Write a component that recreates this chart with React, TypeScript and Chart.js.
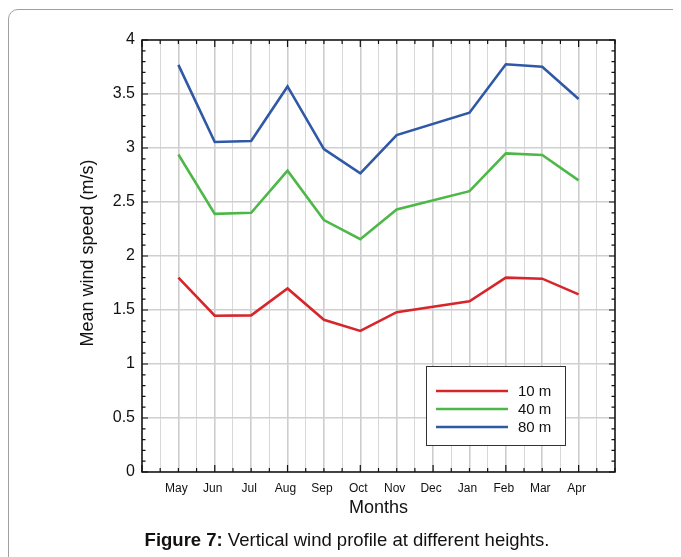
import React, { useEffect, useRef } from 'react';
import { Chart, registerables } from 'chart.js';

Chart.register(...registerables);

const months = ['May', 'Jun', 'Jul', 'Aug', 'Sep', 'Oct', 'Nov', 'Dec', 'Jan', 'Feb', 'Mar', 'Apr'];
const speed10m: (number | null)[] = [1.80, 1.447, 1.45, 1.70, 1.41, 1.306, 1.48, null, 1.58, 1.80, 1.79, 1.645];
const speed40m: (number | null)[] = [2.94, 2.39, 2.40, 2.79, 2.333, 2.155, 2.43, null, 2.60, 2.95, 2.935, 2.70];
const speed80m: (number | null)[] = [3.77, 3.056, 3.065, 3.57, 2.99, 2.765, 3.12, null, 3.327, 3.775, 3.753, 3.454];
const seriesNames = ['10 m', '40 m', '80 m'];
const seriesColors = ['#d7262b', '#4db848', '#2f58a6'];

const FONT = "'Liberation Sans', Arial, Helvetica, sans-serif";

function toPoints(vals: (number | null)[]) {
  return vals.map((v, i) => ({ x: i + 1, y: v }));
}

const framePlugin = {
  id: 'frame',
  afterDraw(chart: any) {
    const { ctx, chartArea } = chart;
    const { left, right, top, bottom } = chartArea;
    const xs = chart.scales.x;
    const ys = chart.scales.y;
    ctx.save();
    ctx.strokeStyle = '#111';
    ctx.lineWidth = 1.5;
    ctx.strokeRect(left, top, right - left, bottom - top);
    ctx.lineWidth = 1.2;
    ctx.beginPath();
    for (let i = 0; i <= 26; i++) {
      const v = i * 0.5;
      const px = xs.getPixelForValue(v);
      const len = i % 4 === 0 ? 7 : 4;
      ctx.moveTo(px, bottom);
      ctx.lineTo(px, bottom - len);
      ctx.moveTo(px, top);
      ctx.lineTo(px, top + len);
    }
    for (let i = 0; i <= 40; i++) {
      const v = i * 0.1;
      const py = ys.getPixelForValue(v);
      const len = i % 5 === 0 ? 6 : 3.5;
      ctx.moveTo(left, py);
      ctx.lineTo(left + len, py);
      ctx.moveTo(right, py);
      ctx.lineTo(right - len, py);
    }
    ctx.stroke();

    // legend
    const lx = 418, ly = 358, lw = 139, lh = 79;
    ctx.fillStyle = '#fff';
    ctx.fillRect(lx, ly, lw, lh);
    ctx.strokeStyle = '#333';
    ctx.lineWidth = 1;
    ctx.strokeRect(lx + 0.5, ly + 0.5, lw, lh);
    ctx.font = `15px ${FONT}`;
    ctx.textBaseline = 'middle';
    ctx.textAlign = 'left';
    seriesNames.forEach((name, i) => {
      const y = 383 + i * 18;
      ctx.strokeStyle = seriesColors[i];
      ctx.lineWidth = 2.5;
      ctx.beginPath();
      ctx.moveTo(428, y);
      ctx.lineTo(500, y);
      ctx.stroke();
      ctx.fillStyle = '#111';
      ctx.fillText(name, 510, y + 1);
    });

    // axis titles
    ctx.fillStyle = '#111';
    ctx.font = `18px ${FONT}`;
    ctx.textAlign = 'center';
    ctx.fillText('Months', (left + right) / 2, 500);
    ctx.save();
    ctx.translate(80, (top + bottom) / 2 - 3);
    ctx.rotate(-Math.PI / 2);
    ctx.fillText('Mean wind speed (m/s)', 0, 0);
    ctx.restore();

    // caption
    const bold = 'Figure 7:';
    const rest = ' Vertical wind profile at different heights.';
    ctx.font = `bold 18.5px ${FONT}`;
    const bw = ctx.measureText(bold).width;
    ctx.font = `18.5px ${FONT}`;
    const rw = ctx.measureText(rest).width;
    const startX = 339 - (bw + rw) / 2;
    ctx.textAlign = 'left';
    ctx.font = `bold 18.5px ${FONT}`;
    ctx.fillText(bold, startX, 533);
    ctx.font = `18.5px ${FONT}`;
    ctx.fillText(rest, startX + bw, 533);
    ctx.restore();
  },
};

export default function App() {
  const ref = useRef<HTMLCanvasElement | null>(null);
  useEffect(() => {
    if (!ref.current) return;
    const data = [speed10m, speed40m, speed80m];
    const chart = new Chart(ref.current, {
      type: 'line',
      data: {
        datasets: data.map((vals, i) => ({
          label: seriesNames[i],
          data: toPoints(vals) as any,
          borderColor: seriesColors[i],
          backgroundColor: seriesColors[i],
          borderWidth: 2.6,
          pointRadius: 0,
          tension: 0,
          spanGaps: true,
        })),
      },
      options: {
        animation: false,
        responsive: false,
        layout: { padding: { top: 32, right: 66, left: 0, bottom: 0 } },
        plugins: { legend: { display: false }, tooltip: { enabled: false } },
        scales: {
          x: {
            type: 'linear',
            min: 0,
            max: 13,
            afterFit: (s: any) => { s.height = 85; },
            border: { display: false },
            grid: {
              drawTicks: false,
              color: (c: any) => (Number.isInteger(c.tick?.value) ? '#cdcdcd' : '#d8d8d8'),
              lineWidth: (c: any) => (Number.isInteger(c.tick?.value) ? 1.6 : 1),
            },
            ticks: {
              stepSize: 0.5,
              autoSkip: false,
              maxRotation: 0,
              padding: 9,
              labelOffset: -2,
              color: '#111',
              font: { family: FONT, size: 12 },
              callback: (v: any) => {
                const n = Number(v);
                return Number.isInteger(n) && n >= 1 && n <= 12 ? months[n - 1] : '';
              },
            },
          },
          y: {
            min: 0,
            max: 4,
            afterFit: (s: any) => { s.width = 134; },
            border: { display: false },
            grid: { drawTicks: false, color: '#d0d0d0', lineWidth: 1.4 },
            ticks: {
              stepSize: 0.5,
              padding: 7,
              color: '#111',
              font: { family: FONT, size: 16 },
              callback: (v: any) => String(v),
            },
          },
        },
      },
      plugins: [framePlugin],
    } as any);
    return () => chart.destroy();
  }, []);

  return (
    <div style={{ position: 'relative', width: 673, height: 549, overflow: 'hidden' }}>
      <div
        style={{
          position: 'absolute',
          left: 0,
          top: 1,
          width: 720,
          height: 640,
          border: '1px solid #a0a0a0',
          borderRadius: 10,
          boxSizing: 'border-box',
        }}
      />
      <canvas ref={ref} width={673} height={549} style={{ position: 'absolute', left: 0, top: 0 }} />
    </div>
  );
}
